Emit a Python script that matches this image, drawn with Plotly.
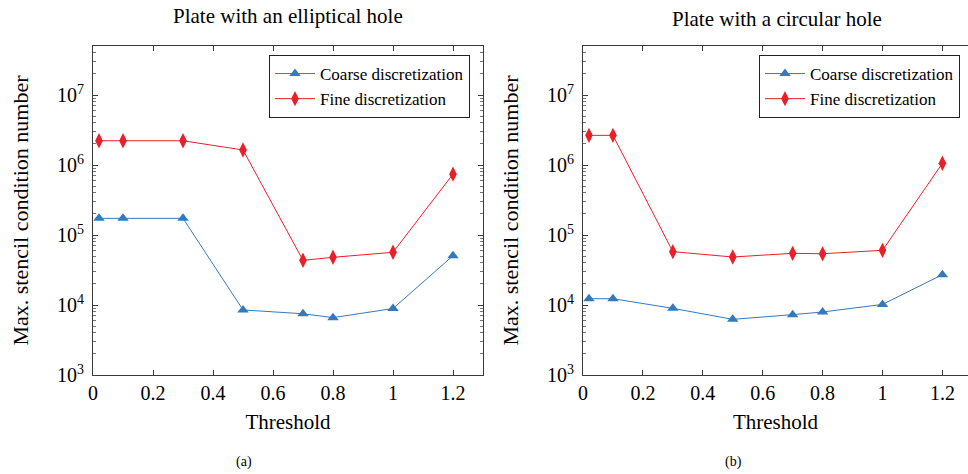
import plotly.graph_objects as go

threshold = [0.02, 0.1, 0.3, 0.5, 0.7, 0.8, 1.0, 1.2]

ell_coarse = [1.73e5, 1.73e5, 1.73e5, 8.5e3, 7.5e3, 6.6e3, 8.9e3, 5.06e4]
ell_fine = [2.22e6, 2.22e6, 2.22e6, 1.64e6, 4.35e4, 4.8e4, 5.66e4, 7.4e5]

circ_coarse = [1.23e4, 1.23e4, 8.96e3, 6.24e3, 7.28e3, 7.94e3, 1.02e4, 2.71e4]
circ_fine = [2.65e6, 2.65e6, 5.78e4, 4.85e4, 5.47e4, 5.4e4, 6.04e4, 1.06e6]

titles = ["Plate with an elliptical hole", "Plate with a circular hole"]
captions = ["(a)", "(b)"]
series_names = ["Coarse discretization", "Fine discretization"]
x_ticks = [0, 0.2, 0.4, 0.6, 0.8, 1, 1.2]
x_ticklabels = ["0", "0.2", "0.4", "0.6", "0.8", "1", "1.2"]
y_ticks = [1e3, 1e4, 1e5, 1e6, 1e7]
y_ticklabels = ["10<sup>3</sup>", "10<sup>4</sup>", "10<sup>5</sup>", "10<sup>6</sup>", "10<sup>7</sup>"]

BLUE = "#3579bd"
RED = "#e8202a"
FONT = "Liberation Serif, Times New Roman, serif"
AXC = "#3a3a3a"

minor_vals = [m * 10 ** e for e in range(3, 8) for m in range(2, 10) if m * 10 ** e < 5e7]

fig = go.Figure()

panels = [(ell_coarse, ell_fine, "x", "y", "legend"), (circ_coarse, circ_fine, "x2", "y2", "legend2")]
for coarse, fine, xa, ya, lg in panels:
    fig.add_trace(go.Scatter(x=threshold, y=coarse, name=series_names[0], mode="lines+markers",
                             line=dict(color=BLUE, width=1),
                             marker=dict(symbol="triangle-up", size=10, color=BLUE),
                             xaxis=xa, yaxis=ya, legend=lg))
    fig.add_trace(go.Scatter(x=threshold, y=fine, name=series_names[1], mode="lines+markers",
                             line=dict(color=RED, width=1),
                             marker=dict(symbol="diamond-tall", size=11, color=RED),
                             xaxis=xa, yaxis=ya, legend=lg))

xcommon = dict(tickmode="array", tickvals=x_ticks, ticktext=x_ticklabels, ticks="inside", ticklen=5,
               tickcolor=AXC, showline=True, linecolor=AXC, linewidth=1.2, showgrid=False, zeroline=False,
               automargin=False,
               tickfont=dict(family=FONT, size=20, color="black"),
               title=dict(text="Threshold", font=dict(family=FONT, size=21, color="black"), standoff=11))
ycommon = dict(type="log", range=[3, 7.7], tickmode="array", tickvals=y_ticks, ticktext=y_ticklabels,
               ticks="inside", ticklen=5, tickcolor=AXC, showline=True, linecolor=AXC, linewidth=1.2,
               showgrid=False, zeroline=False, automargin=False, ticklabelstandoff=4,
               minor=dict(tickmode="array", tickvals=minor_vals, ticks="inside", ticklen=3, tickcolor="#777", showgrid=False),
               tickfont=dict(family=FONT, size=20, color="black"),
               title=dict(text="Max. stencil condition number", font=dict(family=FONT, size=22, color="black"), standoff=22))

yb0 = (474 - 375) / 474
yb1 = (474 - 46) / 474
fig.update_layout(
    width=968, height=474, margin=dict(l=0, r=0, t=0, b=0, autoexpand=False),
    paper_bgcolor="white", plot_bgcolor="white",
    font=dict(family=FONT, color="black"),
    xaxis=dict(domain=[93 / 968, 483 / 968], range=[0, 1.3], mirror="ticks", anchor="y", **xcommon),
    yaxis=dict(domain=[yb0, yb1], mirror="ticks", anchor="x", **ycommon),
    xaxis2=dict(domain=[583 / 968, 1.0], range=[0, (968 - 583) / 299.5], mirror="ticks", anchor="y2", **xcommon),
    yaxis2=dict(domain=[yb0, yb1], mirror=False, anchor="x2", **ycommon),
    legend=dict(x=470 / 968, y=1 - 55 / 474, xanchor="right", yanchor="top", bgcolor="white",
                bordercolor="#222", borderwidth=1, font=dict(family=FONT, size=17, color="black"),
                tracegroupgap=0, itemwidth=40),
    legend2=dict(x=960 / 968, y=1 - 55 / 474, xanchor="right", yanchor="top", bgcolor="white",
                 bordercolor="#222", borderwidth=1, font=dict(family=FONT, size=17, color="black"),
                 tracegroupgap=0, itemwidth=40),
)

ann = []
for i, cx in enumerate([288, 777]):
    ann.append(dict(text=titles[i], x=cx / 968, y=1 - (16 if i == 0 else 19) / 474, xref="paper", yref="paper",
                    showarrow=False, font=dict(family=FONT, size=21, color="black"), xanchor="center", yanchor="middle"))
for i, cx in enumerate([244, 733]):
    ann.append(dict(text=captions[i], x=cx / 968, y=1 - 462 / 474, xref="paper", yref="paper",
                    showarrow=False, font=dict(family=FONT, size=14, color="black"), xanchor="center", yanchor="middle"))
fig.update_layout(annotations=ann)

fig.write_html("out.html")
